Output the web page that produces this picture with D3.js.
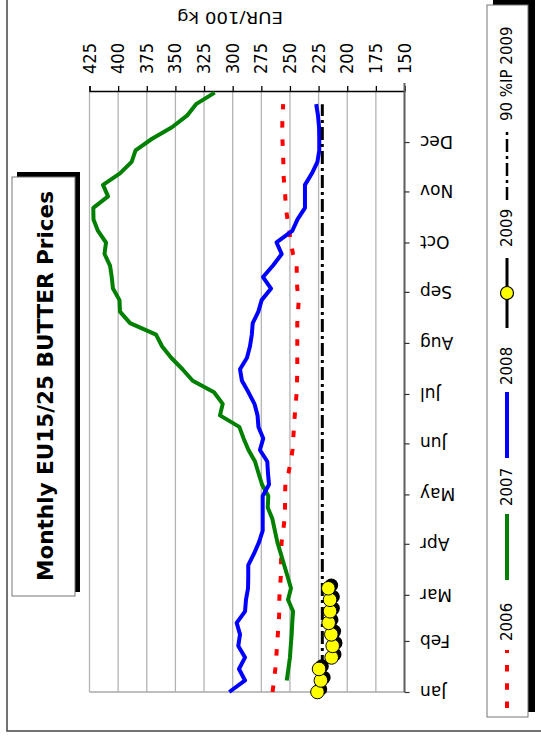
<!DOCTYPE html>
<html>
<head>
<meta charset="utf-8">
<script src="https://cdn.jsdelivr.net/npm/d3@7"></script>
<style>
  html, body { margin: 0; padding: 0; background: #fff; }
  svg { display: block; }
</style>
</head>
<body>
<svg id="chart" width="541" height="737"></svg>
<script>
// ---------------- DATA ----------------
const monthLabels = ["Jan","Feb","Mar","Apr","May","Jun","Jul","Aug","Sep","Oct","Nov","Dec"];
const valueTicks = [425, 400, 375, 350, 325, 300, 275, 250, 225, 200, 175, 150];

// weekly prices, EUR/100 kg (week index = weeks after 1 Jan)
const start2006 = 0;
const prices2006 = [265.2, 263.9, 262.8, 262.0, 261.3, 260.6, 259.8, 259.3, 259.3, 258.8, 258.0, 257.8, 257.6, 257.3, 255.9, 254.7, 254.3, 254.3, 254.0, 251.3, 249.3, 247.8, 247.1, 246.5, 245.8, 245.0, 244.1, 243.8, 243.6, 243.6, 243.6, 243.6, 243.6, 243.0, 242.3, 243.6, 244.1, 244.1, 247.3, 249.3, 250.5, 252.1, 253.6, 254.1, 254.9, 255.8, 255.8, 256.1, 256.6, 256.7, 256.5, 255.9];

const start2007 = 1;
const prices2007 = [252.8, 251.4, 250.0, 249.3, 248.5, 248.0, 247.3, 251.7, 249.1, 252.0, 255.0, 258.0, 261.0, 263.2, 265.3, 269.4, 268.9, 274.4, 277.5, 280.5, 286.2, 290.5, 294.2, 311.1, 308.7, 316.3, 334.9, 343.8, 353.7, 361.7, 366.9, 389.6, 398.4, 398.8, 404.5, 405.6, 407.1, 411.9, 410.6, 417.6, 421.5, 421.7, 408.8, 413.2, 398.4, 388.2, 384.8, 370.4, 353.0, 339.9, 332.0, 315.7];

const start2008 = 0;
const prices2008 = [303.0, 289.2, 294.5, 289.2, 295.1, 293.6, 296.5, 289.2, 288.4, 286.6, 286.4, 286.4, 281.4, 277.0, 273.8, 273.8, 273.8, 273.8, 268.3, 269.2, 269.8, 276.2, 273.3, 277.5, 278.3, 281.0, 286.2, 291.9, 293.6, 287.5, 284.9, 283.3, 282.5, 277.6, 274.7, 266.5, 273.5, 264.8, 257.2, 261.7, 248.0, 243.4, 236.9, 236.9, 236.9, 230.8, 226.0, 224.4, 224.4, 224.6, 225.5, 227.1];

const start2009 = 0;
const prices2009 = [226.0, 223.0, 224.6, 213.6, 212.7, 213.9, 216.2, 215.0, 215.0, 216.5];

const ip90_2009 = 221.75;
const ipWeeks = [0, 51];

const legendNames = ["2006", "2007", "2008", "2009", "90 %IP 2009"];
const titleText = "Monthly EU15/25 BUTTER Prices";
const unitText = "EUR/100 kg";

// ---------------- LAYOUT ----------------
const svg = d3.select("#chart");
const plot = { left: 89.5, right: 404.5, top: 91, bottom: 692 };
const yearStart = new Date(2009, 0, 1), yearEnd = new Date(2010, 0, 1);

const x = d3.scaleLinear().domain([425, 150]).range([plot.left, plot.right]);
const y = d3.scaleTime().domain([yearStart, yearEnd]).range([plot.bottom, plot.top]);
const weekDate = k => d3.timeDay.offset(yearStart, 7 * k);

const toPoints = (vals, start) => vals.map((v, i) => ({ date: weekDate(start + i), v }));

svg.append("rect").attr("width", 541).attr("height", 737).attr("fill", "#fff");

// outer frame
svg.append("path").attr("d", "M7,0 V731 H541").attr("fill", "none")
  .attr("stroke", "#444").attr("stroke-width", 1.5);

// gridlines
svg.append("g").selectAll("line").data(valueTicks).join("line")
  .attr("x1", d => x(d)).attr("x2", d => x(d))
  .attr("y1", plot.top).attr("y2", plot.bottom)
  .attr("stroke", "#b4b4b4").attr("stroke-width", 1.3);

// bottom border
svg.append("line").attr("x1", plot.left).attr("x2", plot.right)
  .attr("y1", plot.bottom).attr("y2", plot.bottom)
  .attr("stroke", "#a8a8a8").attr("stroke-width", 1.5);

// value axis on top
const xAxis = d3.axisTop(x).tickValues(valueTicks).tickSize(5).tickFormat("");
const gx = svg.append("g").attr("transform", `translate(0,${plot.top})`).call(xAxis);
gx.select(".domain").attr("stroke", "#000").attr("stroke-width", 1.3);
gx.selectAll(".tick line").attr("stroke", "#000").attr("stroke-width", 1.3);
svg.append("g").selectAll("text").data(valueTicks).join("text")
  .attr("transform", d => `translate(${x(d)},74) rotate(-90)`)
  .attr("text-anchor", "start").attr("dominant-baseline", "central")
  .attr("font-family", "DejaVu Sans Condensed, DejaVu Sans, sans-serif").attr("font-size", 17)
  .attr("textLength", 31).attr("lengthAdjust", "spacingAndGlyphs")
  .attr("fill", "#000").text(d => d);

// month axis on right
const months = d3.timeMonth.range(yearStart, yearEnd);
const yAxis = d3.axisRight(y).tickValues(months).tickSize(5).tickFormat("");
const gy = svg.append("g").attr("transform", `translate(${plot.right},0)`).call(yAxis);
gy.select(".domain").attr("stroke", "#606060").attr("stroke-width", 2)
  .attr("d", `M0,${plot.top - 8}V${plot.bottom}`);
gy.selectAll(".tick line").attr("stroke", "#333").attr("stroke-width", 1.2);
svg.append("g").selectAll("text").data(months).join("text")
  .attr("transform", d => `translate(420,${y(d)}) rotate(180)`)
  .attr("text-anchor", "end").attr("dominant-baseline", "central")
  .attr("font-family", "DejaVu Sans, sans-serif").attr("font-size", 17)
  .attr("fill", "#000").text((d, i) => monthLabels[i]);

// unit label
svg.append("text").attr("transform", "translate(230,17) rotate(180)")
  .attr("text-anchor", "middle").attr("dominant-baseline", "central")
  .attr("font-family", "DejaVu Sans, sans-serif").attr("font-size", 16)
  .attr("textLength", 106).attr("lengthAdjust", "spacingAndGlyphs")
  .text(unitText);

// ---------------- SERIES ----------------
const line = d3.line().x(d => x(d.v)).y(d => y(d.date));

svg.append("path").datum(toPoints(prices2006, start2006)).attr("d", line)
  .attr("fill", "none").attr("stroke", "#ff0000").attr("stroke-width", 4)
  .attr("stroke-dasharray", "6.5,11.8");

svg.append("path").datum(toPoints(prices2007, start2007)).attr("d", line)
  .attr("fill", "none").attr("stroke", "#008000").attr("stroke-width", 4)
  .attr("stroke-linejoin", "round");

svg.append("path").datum(toPoints(prices2008, start2008)).attr("d", line)
  .attr("fill", "none").attr("stroke", "#0000ff").attr("stroke-width", 4)
  .attr("stroke-linejoin", "round");

svg.append("path").datum(ipWeeks.map(k => ({ date: weekDate(k), v: ip90_2009 }))).attr("d", line)
  .attr("fill", "none").attr("stroke", "#000").attr("stroke-width", 3)
  .attr("stroke-dasharray", "13,4,3,4");

const p2009 = toPoints(prices2009, start2009);
svg.append("path").datum(p2009).attr("d", line)
  .attr("fill", "none").attr("stroke", "#000").attr("stroke-width", 3);
svg.append("g").selectAll("circle").data(p2009).join("circle")
  .attr("cx", d => x(d.v) + 3).attr("cy", d => y(d.date) - 3).attr("r", 6.8).attr("fill", "#000");
svg.append("g").selectAll("circle").data(p2009).join("circle")
  .attr("cx", d => x(d.v)).attr("cy", d => y(d.date)).attr("r", 6.8)
  .attr("fill", "#ffff00").attr("stroke", "#000").attr("stroke-width", 1);

// ---------------- TITLE BOX ----------------
svg.append("rect").attr("x", 17).attr("y", 172).attr("width", 63).attr("height", 420).attr("fill", "#000");
svg.append("rect").attr("x", 12).attr("y", 177).attr("width", 63).attr("height", 419)
  .attr("fill", "#fff").attr("stroke", "#777").attr("stroke-width", 1);
svg.append("text").attr("transform", "translate(45,386) rotate(-90)")
  .attr("text-anchor", "middle").attr("dominant-baseline", "central")
  .attr("font-family", "DejaVu Sans, sans-serif").attr("font-weight", "bold")
  .attr("font-size", 22).attr("textLength", 390).attr("lengthAdjust", "spacingAndGlyphs")
  .text(titleText);

// ---------------- LEGEND ----------------
svg.append("rect").attr("x", 493).attr("y", 0).attr("width", 42).attr("height", 712).attr("fill", "#000");
svg.append("rect").attr("x", 487).attr("y", 5).attr("width", 41).attr("height", 712)
  .attr("fill", "#fff").attr("stroke", "#777").attr("stroke-width", 1);

const lx = 507;
const legendItems = [
  { name: legendNames[0], y1: 708, y2: 650, ty: 641, stroke: "#ff0000", w: 4, dash: "6.5,11.8" },
  { name: legendNames[1], y1: 580, y2: 514, ty: 506, stroke: "#008000", w: 4, dash: null },
  { name: legendNames[2], y1: 458, y2: 392, ty: 385, stroke: "#0000ff", w: 4, dash: null },
  { name: legendNames[3], y1: 328, y2: 258, ty: 247, stroke: "#000", w: 3, dash: null, marker: true },
  { name: legendNames[4], y1: 200, y2: 128, ty: 121, stroke: "#000", w: 2.5, dash: "13,4,3,4" }
];
const lg = svg.append("g");
legendItems.forEach(it => {
  lg.append("line").attr("x1", lx).attr("x2", lx).attr("y1", it.y1).attr("y2", it.y2)
    .attr("stroke", it.stroke).attr("stroke-width", it.w)
    .attr("stroke-dasharray", it.dash);
  if (it.marker) {
    lg.append("circle").attr("cx", lx).attr("cy", (it.y1 + it.y2) / 2).attr("r", 6.5)
      .attr("fill", "#ffff00").attr("stroke", "#000").attr("stroke-width", 1.2);
  }
  lg.append("text").attr("transform", `translate(${lx},${it.ty}) rotate(-90)`)
    .attr("text-anchor", "start").attr("dominant-baseline", "central")
    .attr("font-family", "DejaVu Sans, sans-serif").attr("font-size", 15)
    .text(it.name);
});
</script>
</body>
</html>
